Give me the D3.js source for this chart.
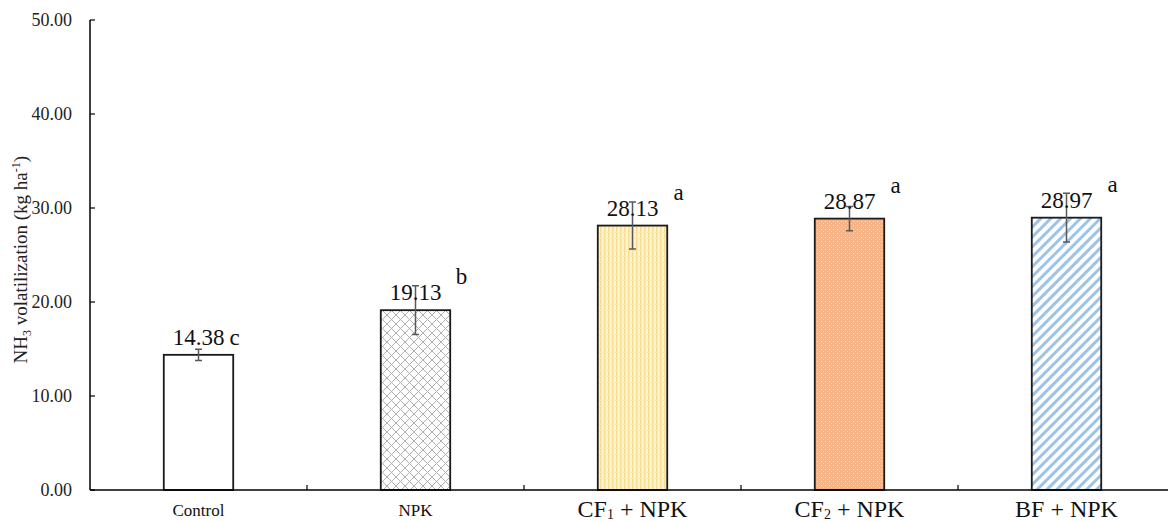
<!DOCTYPE html>
<html>
<head>
<meta charset="utf-8">
<script src="https://cdn.jsdelivr.net/npm/d3@7"></script>
<style>
  html, body { margin: 0; padding: 0; background: #fff; }
  svg text { font-family: "Liberation Serif", "Times New Roman", "DejaVu Serif", serif; }
</style>
</head>
<body>
<svg id="chart" width="1168" height="521"></svg>
<script>
(function() {
    'use strict';

    // Data
    var categories = ['Control', 'NPK', 'CF1 + NPK', 'CF2 + NPK', 'BF + NPK'];
    var values = [14.38, 19.13, 28.13, 28.87, 28.97];
    var errors = [0.6, 2.6, 2.5, 1.3, 2.6];
    var letters = ['c', 'b', 'a', 'a', 'a'];
    var yTicks = [0, 10, 20, 30, 40, 50];

    var FONT = '"Liberation Serif", "Times New Roman", "DejaVu Serif", serif';

    var svg = d3.select('#chart');
    var defs = svg.append('defs');

    var left = 90, top = 20, bottom = 490;
    var step = 217;

    var x = d3.scaleBand()
        .domain(categories)
        .range([left, left + step * categories.length])
        .paddingInner(0.68)
        .paddingOuter(0.34);

    var y = d3.scaleLinear().domain([0, 50]).range([bottom, top]);

    // Patterns
    // NPK: grey diamond lattice
    var p1 = defs.append('pattern').attr('id', 'pat-npk')
        .attr('patternUnits', 'userSpaceOnUse').attr('width', 9).attr('height', 9);
    p1.append('rect').attr('width', 9).attr('height', 9).attr('fill', '#fff');
    p1.append('path').attr('d', 'M0,0 L9,9 M9,0 L0,9 M-1,8 L1,10 M8,-1 L10,1 M-1,1 L1,-1 M8,10 L10,8')
        .attr('stroke', '#b0b0b0').attr('stroke-width', 1);

    // CF1: pale yellow vertical stripes
    var p2 = defs.append('pattern').attr('id', 'pat-cf1')
        .attr('patternUnits', 'userSpaceOnUse').attr('width', 4).attr('height', 6);
    p2.append('rect').attr('width', 4).attr('height', 6).attr('fill', '#fef4d4');
    p2.append('rect').attr('x', 0).attr('width', 1.5).attr('height', 6).attr('fill', '#f8dc8c');
    p2.append('rect').attr('x', 0).attr('y', 4).attr('width', 4).attr('height', 1).attr('fill', '#fce9b0');

    // CF2: orange with light dots
    var p3 = defs.append('pattern').attr('id', 'pat-cf2')
        .attr('patternUnits', 'userSpaceOnUse').attr('width', 4).attr('height', 4);
    p3.append('rect').attr('width', 4).attr('height', 4).attr('fill', '#f5b386');
    p3.append('rect').attr('x', 1).attr('y', 1).attr('width', 1).attr('height', 1).attr('fill', '#fde2cf');
    p3.append('rect').attr('x', 3).attr('y', 3).attr('width', 1).attr('height', 1).attr('fill', '#fbd3b7');

    // BF: blue diagonal stripes (down-right)
    var p4 = defs.append('pattern').attr('id', 'pat-bf')
        .attr('patternUnits', 'userSpaceOnUse').attr('width', 7).attr('height', 7)
        .attr('patternTransform', 'rotate(-45)');
    p4.append('rect').attr('width', 7).attr('height', 7).attr('fill', '#fff');
    p4.append('rect').attr('width', 7).attr('height', 3).attr('fill', '#9dc3e6');

    var fills = ['#ffffff', 'url(#pat-npk)', 'url(#pat-cf1)', 'url(#pat-cf2)', 'url(#pat-bf)'];

    // Y axis
    svg.append('line')
        .attr('x1', left).attr('x2', left)
        .attr('y1', y(50)).attr('y2', y(0))
        .attr('stroke', '#000').attr('stroke-width', 1.5);

    var yt = svg.selectAll('.ytick').data(yTicks).join('g').attr('class', 'ytick');
    yt.append('line')
        .attr('x1', left).attr('x2', left + 5)
        .attr('y1', function(d) { return y(d); })
        .attr('y2', function(d) { return y(d); })
        .attr('stroke', '#000').attr('stroke-width', 1.2);
    yt.append('text')
        .attr('x', left - 18)
        .attr('y', function(d) { return y(d) + 6; })
        .attr('text-anchor', 'end')
        .style('font-family', FONT)
        .attr('font-size', 18)
        .attr('fill', '#222')
        .text(function(d) { return d3.format('.2f')(d); });

    // Y title
    var title = svg.append('text')
        .attr('transform', 'translate(27,' + y(24.5) + ') rotate(-90)')
        .attr('text-anchor', 'middle')
        .style('font-family', FONT)
        .attr('font-size', 19)
        .attr('fill', '#222');
    title.append('tspan').text('NH');
    title.append('tspan').attr('font-size', 12).attr('dy', 4).text('3');
    title.append('tspan').attr('dy', -4).text(' volatilization (kg ha');
    title.append('tspan').attr('font-size', 12).attr('dy', -7).text('-1');
    title.append('tspan').attr('dy', 7).text(')');

    // Bars
    var g = svg.selectAll('.bar').data(categories).join('g').attr('class', 'bar');
    g.append('rect')
        .attr('x', function(d) { return x(d); })
        .attr('y', function(d, i) { return y(values[i]); })
        .attr('width', x.bandwidth())
        .attr('height', function(d, i) { return y(0) - y(values[i]); })
        .attr('fill', function(d, i) { return fills[i]; })
        .attr('stroke', '#1a1a1a')
        .attr('stroke-width', 1.8);

    // X axis
    svg.append('line')
        .attr('x1', left).attr('x2', left + step * categories.length)
        .attr('y1', bottom).attr('y2', bottom)
        .attr('stroke', '#000').attr('stroke-width', 1.5);
    svg.selectAll('.xtick').data(d3.range(1, categories.length)).join('line')
        .attr('x1', function(d) { return left + d * step; })
        .attr('x2', function(d) { return left + d * step; })
        .attr('y1', bottom).attr('y2', bottom - 5)
        .attr('stroke', '#000').attr('stroke-width', 1.2);

    // Error bars
    var cx = function(i) { return x(categories[i]) + x.bandwidth() / 2; };
    g.append('path')
        .attr('d', function(d, i) {
            var c = cx(i), hi = y(values[i] + errors[i]), lo = y(values[i] - errors[i]);
            return 'M' + (c - 3.5) + ',' + hi + 'H' + (c + 3.5) +
                   'M' + c + ',' + hi + 'V' + lo +
                   'M' + (c - 3.5) + ',' + lo + 'H' + (c + 3.5);
        })
        .attr('fill', 'none')
        .attr('stroke', '#595959')
        .attr('stroke-width', 1.5);

    // Value labels
    g.append('text')
        .attr('x', function(d, i) { return cx(i); })
        .attr('y', function(d, i) { return y(values[i]) - 10; })
        .attr('text-anchor', 'middle')
        .style('font-family', FONT)
        .attr('font-size', 23)
        .attr('fill', '#111')
        .text(function(d, i) { return d3.format('.2f')(values[i]); });

    // Significance letters
    g.append('text')
        .attr('x', function(d, i) { return cx(i) + (i === 0 ? 36 : 46); })
        .attr('y', function(d, i) { return y(values[i]) - (i === 0 ? 10 : 26); })
        .attr('text-anchor', 'middle')
        .style('font-family', FONT)
        .attr('font-size', 23)
        .attr('fill', '#111')
        .text(function(d, i) { return letters[i]; });

    // X labels
    var xl = g.append('text')
        .attr('x', function(d, i) { return cx(i); })
        .attr('y', function(d, i) { return i < 2 ? 516 : 517; })
        .attr('text-anchor', 'middle')
        .style('font-family', FONT)
        .attr('font-size', function(d, i) { return i < 2 ? 17 : 24; })
        .attr('fill', '#111');
    xl.each(function(d) {
        var t = d3.select(this);
        var m = d.match(/^(CF)(\d)(.*)$/);
        if (m) {
            t.append('tspan').text(m[1]);
            t.append('tspan').attr('font-size', 14).attr('dy', 2).text(m[2]);
            t.append('tspan').attr('dy', -2).text(m[3]);
        } else {
            t.text(d);
        }
    });
})();
</script>
</body>
</html>
